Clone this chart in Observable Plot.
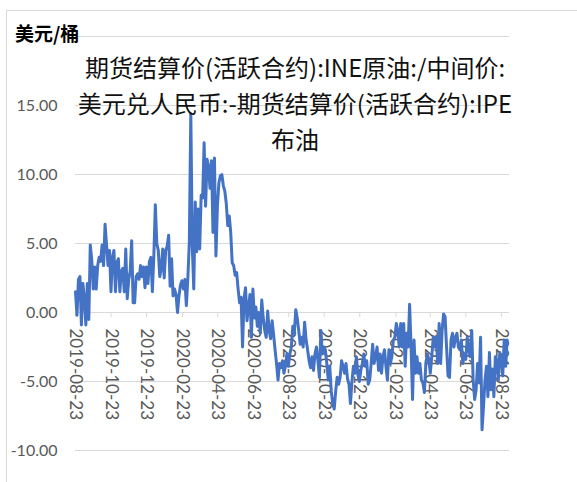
<!DOCTYPE html>
<html><head><meta charset="utf-8">
<script src="https://cdn.jsdelivr.net/npm/d3@7"></script>
<script src="https://cdn.jsdelivr.net/npm/@observablehq/plot@0.6"></script>
<style>
html,body{margin:0;padding:0;background:#fff;}
#wrap{position:relative;width:577px;height:482px;overflow:hidden;}
#frame{position:absolute;left:6px;top:10px;width:640px;height:540px;border:1px solid #d9d9d9;box-sizing:border-box;}
#chart svg{position:absolute;left:0;top:0;}
#unit{position:absolute;left:15px;top:21px;font-family:"Noto Sans CJK SC";font-weight:bold;font-size:19px;line-height:24px;color:#000;}
#title{position:absolute;left:0;width:590px;top:49px;text-align:center;font-family:"Noto Sans CJK SC";font-size:24px;line-height:36px;color:#111;}
</style></head>
<body>
<div id="wrap"><div id="frame"></div><div id="chart"></div><div id="unit"></div><div id="title"></div></div>
<script>
const unitLabel = "美元/桶";
const titleLines = ["期货结算价(活跃合约):INE原油:/中间价:", "美元兑人民币:-期货结算价(活跃合约):IPE", "布油"];
const firstDate = "2019-08-23";
const lastDate = "2021-09-02";
// INE - IPE spread (USD/bbl), sampled evenly between firstDate and lastDate
const spreadValues = [
  // 2019-08-23 .. 2019-10-23
  1.5, -0.2, 2.4, 2.6, -0.9, 2.1, 1.0, -0.9, 2.1, -0.5, 4.9, 3.8, 1.7, 3.3, 1.7, 3.4, 4.0, 3.7, 4.9, 3.4, 6.4, 4.9, 3.4, 4.5,
  // 2019-10-23 .. 2019-12-23
  1.5, 4.0, 4.5, 1.5, 3.6, 3.9, 1.5, 3.0, 3.2, 1.5, 4.6, 1.0, 2.4, 3.0, 5.2, 0.7, 0.7, 2.6, 2.8, 2.4, 3.4, 2.6, 3.3, 1.8,
  // 2019-12-23 .. 2020-02-23
  3.3, 2.1, 3.7, 4.0, 1.5, 4.1, 7.8, 5.0, 4.5, 2.6, 3.2, 4.6, 2.5, 4.5, 4.8, 5.6, 1.9, 3.9, 1.2, 1.7, 1.3, 0.0, 1.2, 2.0,
  // 2020-02-23 .. 2020-04-23
  2.3, 1.7, 2.4, 0.5, 2.5, 5.1, 14.4, 4.8, 1.7, 8.0, 4.4, 7.5, 4.6, 8.5, 8.3, 12.3, 7.7, 11.1, 10.6, 9.0, 11.0, 5.8, 11.2, 4.1,
  // 2020-04-23 .. 2020-06-23
  7.7, 9.4, 9.9, 10.0, 9.2, 8.8, 7.9, 6.3, 7.0, 5.8, 3.6, 3.4, 2.7, 2.9, 1.7, 0.7, 1.1, -2.5, 1.0, 1.8, -0.6, 0.4, 1.3, -1.8,
  // 2020-06-23 .. 2020-08-23
  1.7, -0.4, 0.4, -1.0, 0.0, -1.5, 0.9, -0.4, -1.3, -1.8, 0.1, -1.3, -1.9, -0.6, -1.6, -2.7, -3.7, -4.9, -3.7, -4.0, -3.5, -4.4, -3.9, -3.0,
  // 2020-08-23 .. 2020-10-23
  -3.9, -3.0, -2.5, -1.0, -1.5, 0.2, -0.4, -1.3, -2.3, -1.8, -2.5, -0.7, -2.0, -2.7, -3.5, -4.0, -3.2, -4.2, -3.0, -2.5, -3.5, -4.7, -1.3, -3.0,
  // 2020-10-23 .. 2020-12-23
  -2.5, -2.7, -3.7, -4.9, -3.9, -5.7, -6.6, -7.0, -5.7, -4.7, -5.2, -4.7, -3.5, -3.9, -4.4, -3.7, -4.8, -5.2, -6.6, -5.0, -3.9, -4.4, -3.2, -4.5,
  // 2020-12-23 .. 2021-02-23
  -5.0, -4.2, -3.7, -3.0, -3.9, -3.5, -5.2, -4.9, -3.7, -2.3, -3.7, -3.2, -2.5, -4.2, -3.0, -4.4, -3.2, -2.7, -3.9, -4.9, -2.7, -3.7, -3.2, -2.0,
  // 2021-02-23 .. 2021-04-23
  -1.8, -0.8, -1.3, -2.5, -0.8, -2.5, -0.8, -3.9, -1.5, -2.5, 0.6, -2.5, -6.3, -2.0, -4.4, -3.2, -4.4, -3.7, -4.9, -5.1, -5.8, -3.7, -3.0, -3.4,
  // 2021-04-23 .. 2021-06-23
  -4.4, -3.2, -1.8, -2.5, -1.8, -3.7, -0.8, -3.7, -1.3, -0.1, -0.3, -2.5, -4.6, -4.7, -2.0, -1.5, -2.5, -1.8, -1.5, -2.5, -2.7, -2.0, -3.7, -3.0,
  // 2021-06-23 .. 2021-08-23
  -3.4, -1.8, -2.7, -3.2, -1.3, -4.9, -6.3, -5.6, -3.7, -5.1, -1.8, -8.5, -6.8, -4.9, -3.9, -6.1, -2.9, -5.6, -4.1, -6.1, -3.2, -3.4, -4.9, -2.9,
  // 2021-08-23 .. 2021-09-02
  -3.4, -4.6, -2.0, -3.9, -2.0
];
const xTickLabels = ["2019-08-23","2019-10-23","2019-12-23","2020-02-23","2020-04-23","2020-06-23","2020-08-23","2020-10-23","2020-12-23","2021-02-23","2021-04-23","2021-06-23","2021-08-23"];
const xDomain = ["2019-08-23", "2021-09-06"];
const yTicks = [-10, -5, 0, 5, 10, 15];
const yGrid = [-10, -5, 0, 5, 10, 15, 20];
const yDomain = [-10, 20];

const t0 = new Date(firstDate + "T00:00:00Z"), t1 = new Date(lastDate + "T00:00:00Z");
const n = spreadValues.length;
const data = spreadValues.map((v, i) => ({date: new Date(+t0 + (t1 - t0) * i / (n - 1)), value: v}));
const ticks = xTickLabels.map(s => ({date: new Date(s + "T00:00:00Z"), label: s}));

const chart = Plot.plot({
  width: 577, height: 482,
  marginLeft: 75, marginRight: 68, marginTop: 36, marginBottom: 32,
  style: {background: "transparent", overflow: "visible"},
  x: {type: "utc", domain: xDomain.map(s => new Date(s + "T00:00:00Z"))},
  y: {domain: yDomain},
  marks: [
    Plot.ruleY(yGrid, {stroke: "#d9d9d9", strokeWidth: 1}),
    Plot.axisY(yTicks, {tickSize: 0, tickPadding: 18, tickFormat: d => d.toFixed(2), fontSize: 16, fill: "#595959", fontFamily: "Lato", label: null}),
    Plot.axisX({ticks: [], label: null}),
    Plot.ruleX(ticks, {x: "date", y1: 0, y2: 0, insetBottom: -5, stroke: "#d9d9d9"}),
    Plot.text(ticks, {x: "date", y: 0, text: "label", rotate: 90, textAnchor: "start", lineAnchor: "middle", dy: 16, fontSize: 17, fill: "#595959", fontFamily: "Lato"}),
    Plot.line(data, {x: "date", y: "value", stroke: "#4472C4", strokeWidth: 3, strokeLinejoin: "round"})
  ]
});
document.getElementById("chart").appendChild(chart);
document.getElementById("unit").textContent = unitLabel;
document.getElementById("title").innerHTML = titleLines.map(s => "<div>" + s + "</div>").join("");
</script>
</body></html>
